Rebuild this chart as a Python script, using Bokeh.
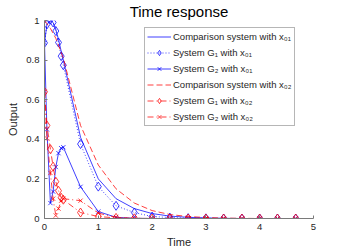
from bokeh.plotting import figure
from bokeh.models import Range1d, FixedTicker, Legend, LegendItem
from bokeh.embed import file_html
from bokeh.resources import INLINE

# ---- data ----
t = [0, 0.045, 0.11, 0.16, 0.21, 0.26, 0.31, 0.35, 0.67, 1.0, 1.33, 1.67,
     2.0, 2.33, 2.67, 3.0, 3.33, 3.67, 4.0, 4.33, 4.67]
cmp_x01 = [0.887, 0.98, 1.0, 0.99, 0.955, 0.905, 0.845, 0.80, 0.41, 0.20, 0.10,
           0.05, 0.025, 0.012, 0.006, 0.003, 0.001, 0.0, 0.0, 0.0, 0.0]
g1_x01 = [0.887, 0.98, 1.005, 0.99, 0.947, 0.889, 0.82, 0.774, 0.376, 0.161,
          0.064, 0.030, 0.010, 0.005, 0.002, 0.001, 0.0, 0.0, 0.0, 0.0, 0.0]
g2_x01 = [0.887, 0.45, 0.078, 0.136, 0.26, 0.33, 0.355, 0.36, 0.16, 0.035,
          0.006, 0.001, 0.0, 0.0, 0.0, 0.0, 0.0, 0.0, 0.0, 0.0, 0.0]
t_cmp02 = [0, 0.11, 0.21, 0.35, 0.67, 1.0, 1.33, 1.67, 2.0, 2.33, 2.67, 3.0,
           3.33, 3.67, 4.0, 4.33, 4.67]
cmp_x02 = [1.0, 0.96, 0.91, 0.81, 0.47, 0.27, 0.15, 0.078, 0.04, 0.02, 0.01,
           0.005, 0.002, 0.001, 0.0, 0.0, 0.0]
g1_x02 = [0.64, 0.47, 0.35, 0.262, 0.186, 0.14, 0.105, 0.095, 0.03, 0.01,
          0.003, 0.001, 0.0, 0.0, 0.0, 0.0, 0.0, 0.0, 0.0, 0.0, 0.0]
g2_x02 = [0.64, 0.405, 0.23, 0.10, 0.015, 0.05, 0.09, 0.10, 0.09, 0.027,
          0.006, 0.001, 0.0, 0.0, 0.0, 0.0, 0.0, 0.0, 0.0, 0.0, 0.0]

x_ticks = [0, 1, 2, 3, 4, 5]
y_ticks = [0, 0.2, 0.4, 0.6, 0.8, 1]
y_tick_labels = ["0", "0.2", "0.4", "0.6", "0.8", "1"]
labels = ["Comparison system with x\u2080\u2081",
          "System G\u2081 with x\u2080\u2081",
          "System G\u2082 with x\u2080\u2081",
          "Comparison system with x\u2080\u2082",
          "System G\u2081 with x\u2080\u2082",
          "System G\u2082 with x\u2080\u2082"]
title_text = "Time response"
x_label = "Time"
y_label = "Output"

BLUE = "#0000ff"
RED = "#ff0000"
FONT = "Liberation Sans"
AX = "#262626"

p = figure(width=347, height=250, output_backend="svg", toolbar_location=None,
           x_range=Range1d(0, 5), y_range=Range1d(0, 1),
           min_border_left=44, min_border_top=20, min_border_right=34,
           min_border_bottom=31, title=title_text)
p.title.align = "center"
p.title.text_font = FONT
p.title.text_font_size = "15px"
p.title.text_font_style = "normal"
p.title.text_color = "#000000"
p.title.standoff = 1
p.title.offset = 0
p.outline_line_color = None
p.grid.visible = False
p.background_fill_color = "white"
p.border_fill_color = "white"

for ax in (p.xaxis[0], p.yaxis[0]):
    ax.axis_line_color = "#7a7a7a"
    ax.axis_line_width = 1
    ax.major_tick_line_color = "#7a7a7a"
    ax.major_tick_in = 3
    ax.major_tick_out = 0
    ax.minor_tick_line_color = None
    ax.major_label_text_font = FONT
    ax.major_label_text_font_size = "9.5px"
    ax.major_label_text_color = AX
    ax.axis_label_text_font = FONT
    ax.axis_label_text_font_size = "11px"
    ax.axis_label_text_color = AX
    ax.axis_label_text_font_style = "normal"

p.xaxis.ticker = FixedTicker(ticks=x_ticks)
p.yaxis.ticker = FixedTicker(ticks=y_ticks)
p.yaxis.major_label_overrides = {v: s for v, s in zip(y_ticks, y_tick_labels)}
p.xaxis.axis_label = x_label
p.yaxis.axis_label = y_label
p.xaxis.major_label_standoff = 5
p.yaxis.major_label_standoff = 5
p.xaxis.axis_label_standoff = 3
p.yaxis.axis_label_standoff = 4

lw = 0.75
r1 = p.line(t, cmp_x01, line_color=BLUE, line_width=lw)
r2l = p.line(t, g1_x01, line_color=BLUE, line_width=lw, line_dash="1 2")
r2m = p.scatter(t, g1_x01, marker="diamond", size=9, fill_color=None,
                line_color=BLUE, line_width=lw)
r3l = p.line(t, g2_x01, line_color=BLUE, line_width=lw)
r3m = p.scatter(t, g2_x01, marker="x", size=6, line_color=BLUE, line_width=lw)
r4 = p.line(t_cmp02, cmp_x02, line_color=RED, line_width=lw, line_dash="6 3")
r5l = p.line(t, g1_x02, line_color=RED, line_width=lw, line_dash="6 3 1 3")
r5m = p.scatter(t, g1_x02, marker="diamond", size=9, fill_color=None,
                line_color=RED, line_width=lw)
r6l = p.line(t, g2_x02, line_color=RED, line_width=lw, line_dash="6 3 1 3")
r6m = p.scatter(t, g2_x02, marker="x", size=6, line_color=RED, line_width=lw)

items = [LegendItem(label=labels[0], renderers=[r1]),
         LegendItem(label=labels[1], renderers=[r2l, r2m]),
         LegendItem(label=labels[2], renderers=[r3l, r3m]),
         LegendItem(label=labels[3], renderers=[r4]),
         LegendItem(label=labels[4], renderers=[r5l, r5m]),
         LegendItem(label=labels[5], renderers=[r6l, r6m])]
legend = Legend(items=items, location=(100, 92), margin=0, padding=2,
                spacing=3, glyph_width=24, glyph_height=13, label_height=13,
                label_standoff=2, label_text_font=FONT,
                label_text_font_size="9.5px", label_text_color=AX,
                border_line_color="#6e6e6e", border_line_width=1,
                background_fill_color="white", background_fill_alpha=1)
p.add_layout(legend)

open("out.html", "w").write(file_html(p, INLINE))
